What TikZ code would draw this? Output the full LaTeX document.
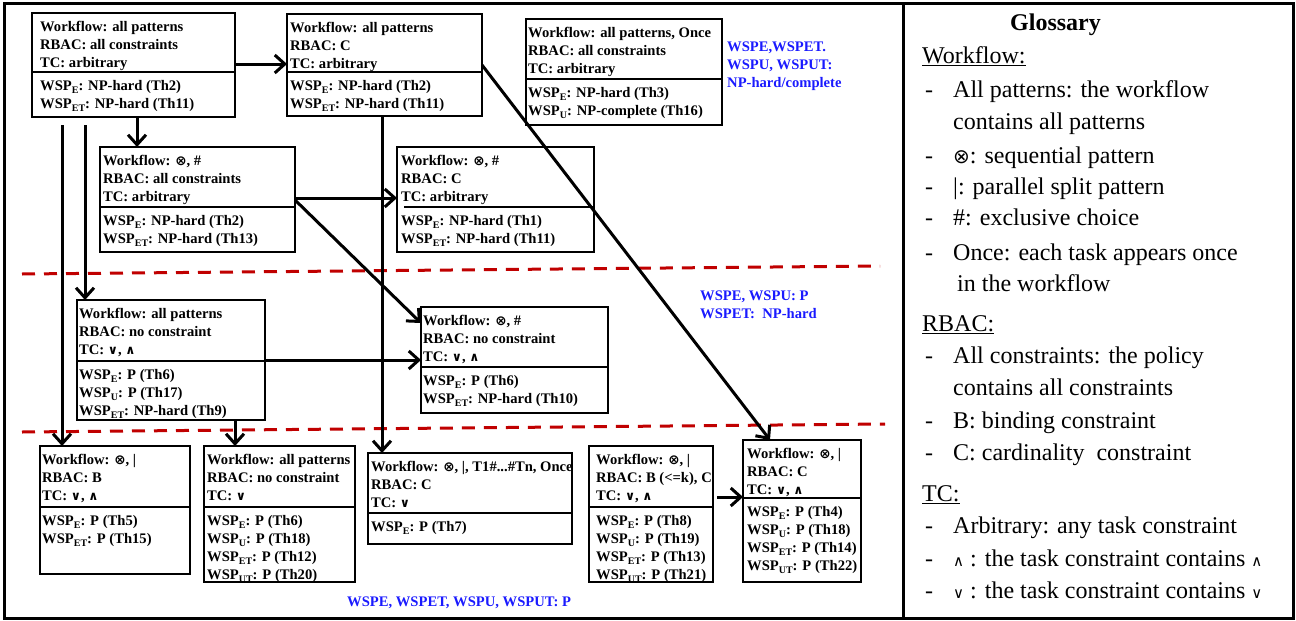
\documentclass[tikz,border=0pt]{standalone}
\usepackage{fontspec}
\setmainfont{Liberation Serif}
\newfontfamily\symf{DejaVu Sans}
\usetikzlibrary{arrows.meta,calc}
\definecolor{sepred}{RGB}{192,0,0}
\definecolor{noteblue}{RGB}{26,26,255}
\newcommand\boxfont{\fontsize{14.6}{18}\selectfont\bfseries}
\newcommand\glfont{\fontsize{24}{32}\selectfont}
\newcommand\wsub[1]{\raisebox{-3pt}{\fontsize{10}{10}\selectfont #1}}
\newcommand\otm{{\symf\bfseries\fontsize{13.5}{13.5}\selectfont ⊗}}
\newcommand\tcor{{\symf\bfseries\fontsize{12.5}{12.5}\selectfont ∨}}
\newcommand\tcand{{\symf\bfseries\fontsize{12.5}{12.5}\selectfont ∧}}
\newcommand\wsp[1]{WSP\wsub{#1}}
\def\divoff{0}
\newcommand\wsbox[9]{%
  \pgfmathsetmacro\wbW{#4-#2}\pgfmathsetmacro\wbH{#5-#3}%
  \node[wbox, minimum width=\wbW pt, minimum height=\wbH pt, anchor=north west] (#1) at (#2,#3) {};
  \draw[divl] (#2+\divoff,#6) -- (#4,#6);
  \node[txt] (#1t) at (#2+#7,#3+8.5) {#8};
  \node[txt] (#1b) at (#2+#7,#6+8) {#9};
}
\begin{document}
\begin{tikzpicture}[x=1pt,y=-1pt,
  wbox/.style={draw, line width=2.5pt, inner sep=0pt, outer sep=0pt},
  divl/.style={line width=2.5pt},
  txt/.style={inner sep=0pt, align=left, anchor=north west, font=\boxfont},
  arr/.style={line width=3pt, -{Straight Barb[length=10pt,width=18pt]}},
  redsep/.style={draw=sepred, line width=3pt, dash pattern=on 13pt off 9pt},
  note/.style={inner sep=0pt, align=left, text=noteblue, font=\boxfont},
  gl/.style={inner sep=0pt, anchor=base west, font=\glfont},
  frame/.style={line width=3pt}]
\useasboundingbox (0,0) rectangle (1296,621);
\draw[frame] (4,3) rectangle (1293,618);
\draw[frame] (903,3) -- (903,618);

% separators
\draw[redsep] (22,274) -- (880,266);
\draw[redsep] (22,432) -- (885,424);

% boxes
\wsbox{A}{32}{13}{235}{117}{72}{8}{Workflow: all patterns\\RBAC: all constraints\\TC: arbitrary}{\wsp{E}: NP-hard (Th2)\\\wsp{ET}: NP-hard (Th11)}
\wsbox{B}{287}{14}{482}{116}{72}{3}{Workflow: all patterns\\RBAC: C\\TC: arbitrary}{\wsp{E}: NP-hard (Th2)\\\wsp{ET}: NP-hard (Th11)}
\wsbox{C}{526}{19}{722}{125}{79}{2}{Workflow: all patterns, Once\\RBAC: all constraints\\TC: arbitrary}{\wsp{E}: NP-hard (Th3)\\\wsp{U}: NP-complete (Th16)}
\wsbox{D}{100}{147}{295}{252}{207}{3}{Workflow: \otm, \#\\RBAC: all constraints\\TC: arbitrary}{\wsp{E}: NP-hard (Th2)\\\wsp{ET}: NP-hard (Th13)}
\def\divoff{7}
\wsbox{E}{397}{147}{594}{252}{207}{4}{Workflow: \otm, \#\\RBAC: C\\TC: arbitrary}{\wsp{E}: NP-hard (Th1)\\\wsp{ET}: NP-hard (Th11)}
\def\divoff{0}
\wsbox{F}{77}{300}{265}{420}{361}{2}{Workflow: all patterns\\RBAC: no constraint\\TC: \tcor, \tcand}{\wsp{E}: P (Th6)\\\wsp{U}: P (Th17)\\\wsp{ET}: NP-hard (Th9)}
\wsbox{G}{421}{307}{608}{413}{367}{2}{Workflow: \otm, \#\\RBAC: no constraint\\TC: \tcor, \tcand}{\wsp{E}: P (Th6)\\\wsp{ET}: NP-hard (Th10)}
\wsbox{H}{40}{446}{190}{574}{507}{2}{Workflow: \otm, |\\RBAC: B\\TC: \tcor, \tcand}{\wsp{E}: P (Th5)\\\wsp{ET}: P (Th15)}
\wsbox{I}{204}{446}{355}{582}{507}{3}{Workflow: all patterns\\RBAC: no constraint\\TC: \tcor}{\wsp{E}: P (Th6)\\\wsp{U}: P (Th18)\\\wsp{ET}: P (Th12)\\\wsp{UT}: P (Th20)}
\wsbox{J}{368}{453}{572}{544}{513}{3}{Workflow: \otm, |, T1\#...\#Tn, Once\\RBAC: C\\TC: \tcor}{\wsp{E}: P (Th7)}
\wsbox{K}{589}{446}{713}{582}{507}{7}{Workflow: \otm, |\\RBAC: B (<=k), C\\TC: \tcor, \tcand}{\wsp{E}: P (Th8)\\\wsp{U}: P (Th19)\\\wsp{ET}: P (Th13)\\\wsp{UT}: P (Th21)}
\wsbox{L}{743}{440}{861}{582}{498}{4}{Workflow: \otm, |\\RBAC: C\\TC: \tcor, \tcand}{\wsp{E}: P (Th4)\\\wsp{U}: P (Th18)\\\wsp{ET}: P (Th14)\\\wsp{UT}: P (Th22)}

% connectors
\coordinate (a1) at ([yshift=-51pt]A.north east);
\draw[arr] (a1) -- (a1 -| B.west);
\coordinate (a2) at ([xshift=105pt]A.south west);
\draw[arr] (a2) -- (a2 |- D.north);
\coordinate (a3) at ([xshift=30pt,yshift=-8pt]A.south west);
\draw[arr] (a3) -- (a3 |- H.north);
\coordinate (a4) at ([xshift=53pt,yshift=-8pt]A.south west);
\draw[arr] (a4) -- (a4 |- F.north);
\coordinate (b1) at ([xshift=95pt]B.south west);
\draw[arr] (b1) -- (b1 |- J.north);
\draw[arr] ([yshift=-51pt]B.north east) -- ([xshift=27pt]L.north west);
\coordinate (d1) at ([yshift=-51pt]D.north east);
\draw[arr] (d1) -- (d1 -| E.west);
\draw[arr] ([yshift=-53pt]D.north east) -- ([yshift=-16pt]G.north west);
\coordinate (f1) at ([yshift=-60pt]F.north east);
\draw[arr] (f1) -- (f1 -| G.west);
\coordinate (f2) at ([xshift=158pt]F.south west);
\draw[arr] (f2) -- (f2 |- I.north);
\coordinate (k1) at ([xshift=4pt,yshift=-51pt]K.north east);
\draw[arr] (k1) -- (k1 -| L.west);

% blue notes
\node[note, anchor=north west] (n1) at (727,42) {WSPE,WSPET.\\WSPU, WSPUT:\\NP-hard/complete};
\node[note, anchor=north west] (n2) at (700,291) {WSPE, WSPU: P\\WSPET:\ \ NP-hard};
\node[note, anchor=base west] (n3) at (347,606) {WSPE, WSPET, WSPU, WSPUT: P};

% glossary
\node[inner sep=0pt, anchor=base west, font=\glfont\bfseries] (gt) at (1010,30) {Glossary};
\node[gl] (g1) at (922,63) {\underline{Workflow:}};
\node[gl] (g2d) at (925,97) {-};
\node[gl] (g2) at (953,97) {All patterns: the workflow};
\node[gl] (g3) at (953,129) {contains all patterns};
\node[gl] (g4d) at (925,163) {-};
\node[gl] (g4) at (953,163) {{\symf\fontsize{20}{20}\selectfont ⊗}: sequential pattern};
\node[gl] (g5d) at (925,194) {-};
\node[gl] (g5) at (953,194) {|: parallel split pattern};
\node[gl] (g6d) at (925,225) {-};
\node[gl] (g6) at (953,225) {\#: exclusive choice};
\node[gl] (g7d) at (925,260) {-};
\node[gl] (g7) at (953,260) {Once: each task appears once};
\node[gl] (g8) at (957,291) {in the workflow};
\node[gl] (g9) at (922,331) {\underline{RBAC:}};
\node[gl] (g10d) at (925,363) {-};
\node[gl] (g10) at (953,363) {All constraints: the policy};
\node[gl] (g11) at (953,395) {contains all constraints};
\node[gl] (g12d) at (925,428) {-};
\node[gl] (g12) at (953,428) {B: binding constraint};
\node[gl] (g13d) at (925,460) {-};
\node[gl] (g13) at (953,460) {C: cardinality\ \ constraint};
\node[gl] (g14) at (922,501) {\underline{TC:}};
\node[gl] (g15d) at (925,533) {-};
\node[gl] (g15) at (953,533) {Arbitrary: any task constraint};
\node[gl] (g16d) at (925,566) {-};
\node[gl] (g16) at (953,566) {{\symf\fontsize{15}{15}\selectfont ∧} : the task constraint contains {\symf\fontsize{15}{15}\selectfont ∧}};
\node[gl] (g17d) at (925,598) {-};
\node[gl] (g17) at (953,598) {{\symf\fontsize{15}{15}\selectfont ∨} : the task constraint contains {\symf\fontsize{15}{15}\selectfont ∨}};
\end{tikzpicture}
\end{document}
